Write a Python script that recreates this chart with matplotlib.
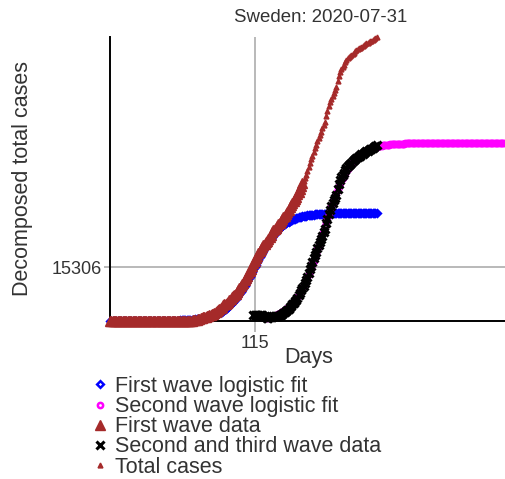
import numpy as np
import matplotlib
matplotlib.use('Agg')
import matplotlib.pyplot as plt

plt.rcParams['font.family'] = ['Liberation Sans', 'DejaVu Sans']

# cumulative confirmed cases, one value per day (day 0 = 2020-01-01)
cases_jan_feb = [0] * 30 + [1] * 25 + [1, 2, 7, 7, 12]
cases_mar = [14, 15, 21, 35, 94, 101, 161, 203, 248, 355, 500, 599, 814, 961,
             1022, 1103, 1190, 1279, 1439, 1639, 1763, 1934, 2046, 2286, 2526,
             2840, 3069, 3447, 3700, 4028, 4435]
cases_apr = [4700, 4950, 5150, 5500, 5900, 6300, 6700, 7000, 7300, 7700, 8200,
             8800, 9300, 9900, 10400, 10900, 11500, 12200, 12800, 13500, 14100,
             14800, 15500, 16300, 17100, 17800, 18500, 19200, 19800, 20500]
cases_may = [21000, 21500, 21900, 22300, 22700, 23300, 23900, 24500, 25100,
             25700, 26100, 26500, 26900, 27400, 27900, 28400, 28900, 29400,
             29900, 30400, 31000, 31600, 32200, 32800, 33400, 34000, 34600,
             35200, 35900, 36700, 37500]
cases_jun = [38300, 39000, 39700, 40500, 41500, 42500, 43600, 44700, 45800,
             46800, 47900, 48900, 49900, 50900, 51900, 52800, 53700, 54600,
             55500, 56400, 58100, 59500, 60900, 62000, 63000, 63900, 64700,
             65400, 66300, 68000]
cases_jul = [69500, 70600, 71400, 72000, 72600, 73300, 74000, 74500, 74900,
             75200, 75500, 75800, 76100, 76400, 76700, 77000, 77300, 77500,
             77800, 78000, 78300, 78500, 78700, 78900, 79100, 79300, 79500,
             79700, 79900, 80200, 80500]

total_cases = np.array(cases_jan_feb + cases_mar + cases_apr + cases_may
                       + cases_jun + cases_jul, dtype=float)
days = np.arange(len(total_cases))

# logistic fits: plateau, growth rate per day, midpoint day
first_fit = (30612, 0.09, 115)
second_fit = (50450, 0.09, 169.4)
first_wave_end = 153
second_wave_start = 114
second_fit_start = 125
fit_end = 315


def logistic(t, L, k, t0):
    return L / (1 + np.exp(-k * (t - t0)))


first_fit_curve = logistic(days, *first_fit)
second_days = np.arange(second_fit_start, fit_end + 1)
second_fit_curve = logistic(second_days, *second_fit)

# what is left after removing the first wave fit
later = days >= second_wave_start
second_wave_data = total_cases[later] - first_fit_curve[later]

fig = plt.figure(figsize=(5.06, 4.79), dpi=100)
ax = fig.add_axes([110 / 506, 158 / 479, 396 / 506, 284 / 479])

brown = '#a52a2a'
ax.axvline(first_fit[2], color='#a6a6a6', lw=1.1, zorder=0.5)
ax.axhline(first_fit[0] / 2, color='#a6a6a6', lw=1.1, zorder=0.5)

ax.plot(days, first_fit_curve, ls='none', marker='D', ms=3.4, mfc='none',
        mec='blue', mew=1.8, clip_on=False, zorder=2,
        label='First wave logistic fit')
ax.plot(second_days, second_fit_curve, ls='none', marker='o', ms=3.8,
        mfc='none', mec='magenta', mew=1.8, clip_on=False, zorder=2,
        label='Second wave logistic fit')
ax.plot(days[:first_wave_end + 1], total_cases[:first_wave_end + 1], ls='none',
        marker='^', ms=6.5, color=brown, clip_on=False, zorder=3,
        label='First wave data')
ax.plot(days[later], second_wave_data, ls='none', marker='x', ms=6,
        mew=2.2, color='black', clip_on=False, zorder=3,
        label='Second and third wave data')
ax.plot(days, total_cases, ls='none', marker='^', ms=3.5, color=brown,
        clip_on=False, zorder=4, label='Total cases')

ax.set_xlim(0, fit_end)
ax.set_ylim(0, 80500)
ax.set_xticks([first_fit[2]])
ax.set_yticks([first_fit[0] / 2])
ax.tick_params(axis='x', colors='#a6a6a6', length=8, width=1.1, pad=2,
               labelcolor='#333333', labelsize=13)
ax.tick_params(axis='y', colors='#a6a6a6', length=4, width=1.1, pad=2,
               labelcolor='#333333', labelsize=13)
for side in ['top', 'right']:
    ax.spines[side].set_visible(False)
for side in ['left', 'bottom']:
    ax.spines[side].set_linewidth(1.4)
    ax.spines[side].set_zorder(2.5)

ax.set_xlabel('Days', fontsize=15.5, color='#333333', va='center')
ax.xaxis.set_label_coords(0.5025, -0.127)
ax.set_ylabel('Decomposed total cases', fontsize=15.5, color='#333333',
              va='center')
ax.yaxis.set_label_coords(-0.221, 0.502)
ax.set_title('Sweden: 2020-07-31', fontsize=13.4, color='#333333',
             x=0.5316, y=1.0687, va='center', pad=0)

ax.legend(loc='upper left', bbox_to_anchor=(95 / 506, 1 - 376 / 479),
          bbox_transform=fig.transFigure, frameon=False, fontsize=15.5,
          handlelength=0.5, handletextpad=0.45, labelspacing=-0.04,
          borderpad=0, borderaxespad=0, numpoints=1, labelcolor='#333333')

fig.savefig('out.png', dpi=100)
